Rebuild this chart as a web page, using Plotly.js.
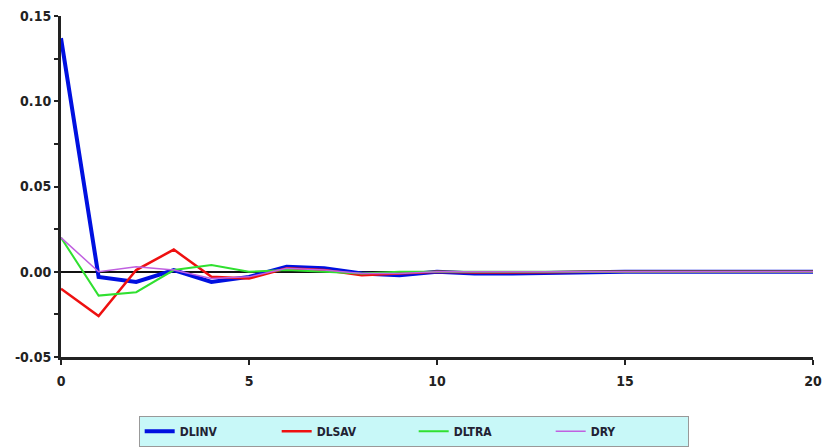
<!DOCTYPE html>
<html>
<head>
<meta charset="utf-8">
<script src="https://cdn.plot.ly/plotly-3.0.1.min.js"></script>
<style>html,body{margin:0;padding:0;background:#fff;}#chart{width:823px;height:447px;}</style>
</head>
<body>
<div id="chart"></div>
<script>
var periods = [0,1,2,3,4,5,6,7,8,9,10,11,12,13,14,15,16,17,18,19,20];
var dlinv  = [0.137,-0.003,-0.006,0.001,-0.006,-0.003,0.003,0.002,-0.001,-0.002,0.000,-0.001,-0.001,-0.0005,0,0,0,0,0,0,0];
var dlsav  = [-0.010,-0.026,0.001,0.013,-0.003,-0.004,0.002,0.001,-0.002,-0.001,0.000,-0.0005,-0.0005,-0.0003,0,0,0,0,0,0,0];
var dltra  = [0.020,-0.014,-0.012,0.001,0.004,0.000,0.001,0.000,-0.001,0.000,0,0,0,0,0,0,0,0,0,0,0];
var dry    = [0.020,0.000,0.003,0.001,-0.004,-0.003,0.002,0.001,-0.001,-0.001,0,0,0,0,0,0,0,0,0,0,0];
var seriesNames = ['DLINV','DLSAV','DLTRA','DRY'];
var xTicks = [0,5,10,15,20];
var yTicks = [-0.05,0.00,0.05,0.10,0.15];
var yTickLabels = ['-0.05','0.00','0.05','0.10','0.15'];

var fam = '"DejaVu Sans Condensed", "DejaVu Sans", sans-serif';
var tickFont = {family:fam, size:14, color:'#222', weight:'bold'};

var traces = [
  {x:periods, y:dlinv, name:seriesNames[0], mode:'lines', line:{color:'#0010e0', width:4}},
  {x:periods, y:dlsav, name:seriesNames[1], mode:'lines', line:{color:'#ee1010', width:2.5}},
  {x:periods, y:dltra, name:seriesNames[2], mode:'lines', line:{color:'#30e030', width:2}},
  {x:periods, y:dry,   name:seriesNames[3], mode:'lines', line:{color:'#c060e0', width:1.5}}
];

var layout = {
  width:823, height:447,
  margin:{l:61, r:10, t:16, b:90, autoexpand:false},
  paper_bgcolor:'#fff', plot_bgcolor:'#fff',
  showlegend:true,
  font:{family:fam, size:13, color:'#222'},
  xaxis:{range:[0,20], tickvals:xTicks, ticktext:xTicks.map(String), showgrid:false, zeroline:false,
         showline:true, linecolor:'#222', linewidth:3, ticks:'outside', ticklen:5, tickwidth:2, tickcolor:'#222',
         ticklabelstandoff:4, tickfont:tickFont},
  yaxis:{range:[-0.05,0.15], tickvals:yTicks, ticktext:yTickLabels, showgrid:false,
         zeroline:true, zerolinecolor:'#111', zerolinewidth:1.5,
         showline:true, linecolor:'#222', linewidth:3, ticks:'outside', ticklen:4, tickwidth:2, tickcolor:'#222',
         minor:{dtick:0.025, ticks:'outside', ticklen:4, tickwidth:2, tickcolor:'#222'},
         ticklabelstandoff:0, tickfont:tickFont},
  legend:{orientation:'h', x:0.469, xanchor:'center', y:-0.218, yanchor:'middle',
          bgcolor:'#c8f8f8', bordercolor:'#999', borderwidth:1,
          entrywidth:92, entrywidthmode:'pixels', traceorder:'normal',
          font:{family:fam, size:12, color:'#223', weight:'bold'}}
};

Plotly.newPlot('chart', traces, layout, {displayModeBar:false, staticPlot:true});
</script>
</body>
</html>
